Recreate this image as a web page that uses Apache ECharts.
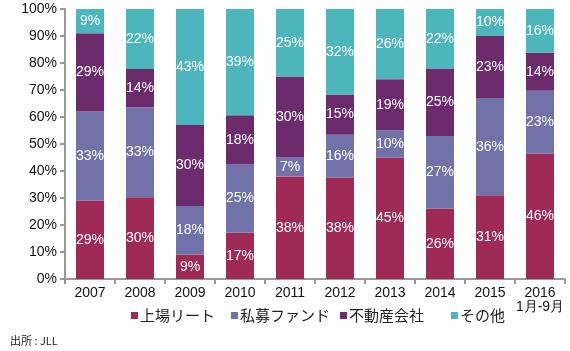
<!DOCTYPE html>
<html>
<head>
<meta charset="utf-8">
<script src="https://cdn.jsdelivr.net/npm/echarts@6/dist/echarts.min.js"></script>
<style>
html,body{margin:0;padding:0;background:#fff;}
#myChart{width:570px;height:351px;}
</style>
</head>
<body>
<div id="myChart"></div>
<script>
var years = ['2007','2008','2009','2010','2011','2012','2013','2014','2015','2016\n1月-9月'];
var reit = [29,30,9,17,38,38,45,26,31,46];
var fund = [33,33,18,25,7,16,10,27,36,23];
var company = [29,14,30,18,30,15,19,25,23,14];
var other = [9,22,43,39,25,32,26,22,10,16];
var yTicks = [0,10,20,30,40,50,60,70,80,90,100];

var names = ['上場リート','私募ファンド','不動産会社','その他'];
var colors = ['#9e2a55','#7272aa','#6b2b6c','#4db6bd'];
var raw = [reit, fund, company, other];
var legendLeft = [131, 231, 340, 451];

// 合計で割って100%にそろえる
var sums = [];
for (var i = 0; i < years.length; i++) {
    sums.push(reit[i] + fund[i] + company[i] + other[i]);
}

var series = [];
var legends = [];
for (var s = 0; s < raw.length; s++) {
    (function (vals) {
        series.push({
            name: names[s],
            type: 'bar',
            stack: 'all',
            barWidth: 28,
            itemStyle: {color: colors[s]},
            label: {
                show: true,
                color: '#fff',
                fontSize: 14,
                fontFamily: 'Liberation Sans, Arial',
                formatter: function (p) { return vals[p.dataIndex] + '%'; }
            },
            data: vals.map(function (v, i) { return v / sums[i] * 100; })
        });
    })(raw[s]);
    legends.push({
        data: [names[s]],
        top: 308,
        left: legendLeft[s],
        padding: 0,
        itemWidth: 7,
        itemHeight: 7,
        icon: 'rect',
        textStyle: {fontSize: 15, color: '#222', fontFamily: 'Noto Sans CJK JP', padding: [0, 0, 0, -3]}
    });
}

var myChart = echarts.init(document.getElementById('myChart'));
myChart.setOption({
    animation: false,
    textStyle: {fontFamily: 'Liberation Sans, Arial'},
    grid: {left: 65, right: 5, top: 9, bottom: 72, containLabel: false},
    legend: legends,
    graphic: [{
        type: 'text',
        left: 10,
        top: 335,
        style: {text: '出所 : JLL', fontSize: 11, fill: '#222', fontFamily: 'Noto Sans CJK JP'}
    }],
    xAxis: {
        type: 'category',
        data: years,
        axisLine: {lineStyle: {color: '#999', width: 2}},
        axisTick: {show: true, length: 5, lineStyle: {color: '#999', width: 2}},
        axisLabel: {interval: 0, color: '#111', fontSize: 14, margin: 7, lineHeight: 14}
    },
    yAxis: {
        type: 'value',
        min: 0,
        max: 100,
        interval: 10,
        splitLine: {show: false},
        axisLine: {show: true, lineStyle: {color: '#999', width: 2}},
        axisTick: {show: true, length: 5, lineStyle: {color: '#999', width: 2}},
        axisLabel: {
            color: '#111',
            fontSize: 14,
            margin: 8,
            formatter: function (v) { return yTicks.indexOf(v) >= 0 ? v + '%' : ''; }
        }
    },
    series: series
});
</script>
</body>
</html>
